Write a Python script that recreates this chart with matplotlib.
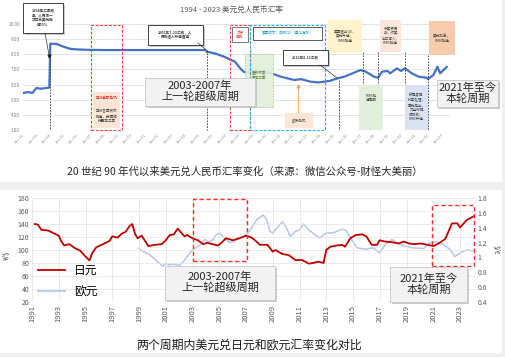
import matplotlib
matplotlib.use("Agg")
import matplotlib.pyplot as plt
from matplotlib.patches import Rectangle
from matplotlib.lines import Line2D

plt.rcParams['font.family'] = ['Noto Sans CJK SC', 'DejaVu Sans']

# ---------------- data ----------------
# Top chart: USD/CNY (decimal year, rate)
cny_year = [1992.0, 1992.4, 1992.7, 1993.0, 1993.3, 1993.95, 1994.02, 1994.5, 1995.0, 1995.5,
            1996.0, 1997.0, 1998.0, 2000.0, 2005.5, 2005.6, 2006.2, 2006.9, 2007.7, 2008.2,
            2008.4, 2009.9, 2010.4, 2011.1, 2012.1, 2012.6, 2013.3, 2013.9, 2014.7, 2015.3,
            2015.8, 2016.4, 2017.0, 2017.4, 2018.0, 2018.3, 2018.6, 2019.0, 2019.2, 2019.7,
            2020.0, 2020.3, 2020.8, 2021.3, 2021.9, 2022.0, 2022.4, 2022.7, 2022.9, 2023.4]
cny_rate = [5.45, 5.50, 5.45, 5.78, 5.72, 5.80, 8.70, 8.68, 8.50, 8.36,
            8.32, 8.29, 8.28, 8.28, 8.28, 8.17, 8.06, 7.84, 7.51, 6.96,
            6.82, 6.82, 6.74, 6.52, 6.30, 6.36, 6.19, 6.14, 6.24, 6.41,
            6.52, 6.74, 6.96, 6.85, 6.52, 6.45, 6.85, 6.90, 6.74, 7.07,
            6.90, 7.07, 6.74, 6.52, 6.45, 6.37, 6.63, 7.18, 6.74, 7.18]
top_yticks = [3, 4, 5, 6, 7, 8, 9, 10]
top_xlabels = ["Jan-%02d" % (y % 100) for y in range(1992, 2024)]

# Bottom chart: JPY per USD (left axis)
jpy_year = [1991.2, 1991.45, 1991.7, 1992.2, 1992.6, 1993.0, 1993.2, 1993.4, 1993.8, 1994.2,
            1994.6, 1994.9, 1995.3, 1995.5, 1995.8, 1996.3, 1996.8, 1997.0, 1997.4, 1997.7,
            1998.0, 1998.3, 1998.5, 1998.7, 1998.9, 1999.2, 1999.7, 2000.2, 2000.7, 2001.0,
            2001.3, 2001.6, 2001.9, 2002.1, 2002.4, 2002.6, 2003.0, 2003.4, 2003.8, 2004.1,
            2004.5, 2004.9, 2005.1, 2005.5, 2006.0, 2006.5, 2007.0, 2007.3, 2007.5, 2008.05,
            2008.6, 2009.0, 2009.2, 2009.7, 2010.2, 2010.7, 2011.2, 2011.7, 2012.0, 2012.4,
            2012.8, 2013.0, 2013.3, 2013.8, 2014.2, 2014.4, 2014.8, 2015.2, 2015.7, 2016.0,
            2016.4, 2016.8, 2017.0, 2017.4, 2017.9, 2018.4, 2018.8, 2019.2, 2019.6, 2020.1,
            2020.8, 2021.0, 2021.4, 2021.9, 2022.4, 2022.8, 2023.0, 2023.5, 2024.0]
jpy_rate = [140, 139, 131, 130, 126, 122, 113, 107, 109, 103,
            99, 92, 84, 95, 104, 109, 114, 121, 119, 125,
            128, 137, 140, 125, 118, 122, 106, 108, 109, 115,
            123, 124, 133, 128, 121, 123, 118, 115, 109, 111,
            109, 107, 110, 118, 115, 118, 122, 120, 118, 108,
            108, 97.5, 100, 94, 92, 84.5, 84.5, 79, 80, 82,
            80, 100, 105, 107, 108, 105, 118, 123, 124, 121,
            108, 108, 115, 113, 112, 110, 113, 110, 109, 110,
            107, 106, 110, 117, 141, 141, 134.6, 146, 151.6]

# Bottom chart: USD per EUR (right axis)
eur_year = [1999.0, 1999.3, 1999.7, 2000.1, 2000.4, 2000.8, 2001.0, 2001.25, 2001.6, 2002.0,
            2002.4, 2002.6, 2003.0, 2003.4, 2003.6, 2003.9, 2004.2, 2004.5, 2004.75, 2005.0,
            2005.4, 2005.75, 2006.1, 2006.5, 2007.0, 2007.4, 2007.8, 2008.3, 2008.55, 2008.8,
            2009.0, 2009.7, 2010.0, 2010.3, 2010.7, 2011.0, 2011.3, 2011.7, 2012.2, 2012.5,
            2013.0, 2013.5, 2014.2, 2014.5, 2014.9, 2015.3, 2015.9, 2016.5, 2017.0, 2017.4,
            2017.9, 2018.3, 2018.7, 2019.4, 2020.3, 2020.65, 2021.3, 2021.8, 2022.3, 2022.6,
            2023.0, 2023.5, 2024.0]
eur_rate = [1.12, 1.08, 1.05, 0.99, 0.94, 0.88, 0.92, 0.90, 0.91, 0.89,
            0.96, 1.01, 1.10, 1.15, 1.17, 1.24, 1.21, 1.23, 1.30, 1.33,
            1.26, 1.20, 1.21, 1.26, 1.30, 1.39, 1.51, 1.57, 1.51, 1.35,
            1.33, 1.48, 1.41, 1.28, 1.35, 1.37, 1.45, 1.37, 1.30, 1.26,
            1.33, 1.33, 1.38, 1.36, 1.24, 1.13, 1.11, 1.13, 1.06, 1.17,
            1.24, 1.20, 1.16, 1.13, 1.12, 1.19, 1.21, 1.17, 1.10, 1.01,
            1.06, 1.10, 1.09]
left_ticks = [20, 40, 60, 80, 100, 120, 140, 160, 180]
right_ticks = [0.4, 0.6, 0.8, 1.0, 1.2, 1.4, 1.6, 1.8]
right_labels = ["0.4", "0.6", "0.8", "1", "1.2", "1.4", "1.6", "1.8"]
year_ticks = list(range(1991, 2024, 2))
cycle_periods = [(2003.0, 2007.1, 83.5, 178.5), (2020.9, 2024.05, 75, 170)]

# ---------------- figure ----------------
W, H = 505, 357
fig = plt.figure(figsize=(W / 100, H / 100), dpi=100)
fig.patch.set_facecolor("white")


def fx(x):
    return x / W


def fy(y):
    return 1 - y / H


def rect(x0, y0, x1, y1, fc="none", ec="none", ls="-", lw=0.6, z=3, shadow=False, alpha=1.0):
    if shadow:
        fig.add_artist(Rectangle((fx(x0 + 2), fy(y1 + 2)), (x1 - x0) / W, (y1 - y0) / H,
                                 transform=fig.transFigure, facecolor="#BDBDBD", edgecolor="none",
                                 zorder=z - 0.1, alpha=0.8))
    fig.add_artist(Rectangle((fx(x0), fy(y1)), (x1 - x0) / W, (y1 - y0) / H,
                             transform=fig.transFigure, facecolor=fc, edgecolor=ec,
                             linestyle=ls, linewidth=lw, zorder=z, alpha=alpha))


def txt(x, y, s, size=2.8, color="#404040", weight="normal", z=5, ls=1.25):
    fig.text(fx(x), fy(y), s, ha="center", va="center", fontsize=size, color=color,
             fontweight=weight, zorder=z, linespacing=ls)


# gray separators
rect(0, 182, W, 190, fc="#EEF0EF", z=0.5)
rect(502, 0, W, H, fc="#EEF0EF", z=0.5)
rect(0, 353, W, H, fc="#EEF0EF", z=0.5)

# ---------------- top chart ----------------
ax1 = fig.add_axes([fx(23), fy(130), 427 / W, 106 / H])
ax1.plot(cny_year, cny_rate, color="#4472C4", lw=1.6, zorder=4, solid_capstyle="round")
ax1.set_ylim(3, 10)
ax1.set_xlim(1992, 1992 + 427 / 13.5)
ax1.set_yticks(top_yticks)
ax1.set_yticklabels(["%.2f" % v for v in top_yticks], fontsize=3.3, color="#7F7F7F")
ax1.set_xticks(list(range(1992, 2024)))
ax1.set_xticklabels(top_xlabels, fontsize=2.8, color="#8C8C8C", rotation=45, ha="right",
                    rotation_mode="anchor")
ax1.tick_params(length=0, pad=2)
ax1.grid(axis="y", color="#D9D9D9", lw=0.5)
for s in ax1.spines.values():
    s.set_visible(False)
ax1.patch.set_alpha(0)

txt(231, 10, "1994 - 2023 美元兑人民币汇率", size=5.5, color="#595959")

# vertical dashed event lines
for (xv, y0, y1) in [(50, 57, 130), (207, 50, 130), (339, 80, 130), (363, 52, 130),
                     (378, 52, 130), (405, 52, 130), (428, 55, 130)]:
    fig.add_artist(Line2D([fx(xv), fx(xv)], [fy(y0), fy(y1)], transform=fig.transFigure,
                          color="#333333", lw=0.6, ls=(0, (2, 1.5)), zorder=3))

# annotation boxes
rect(23, 3, 63, 33, fc="white", ec="#404040", lw=0.7, z=6, shadow=True)
txt(43, 18, "1994年汇率改\n革，人民币一\n次性兑美元贬\n值33%", size=2.6, weight="bold", z=7)
fig.add_artist(Line2D([fx(45), fx(49)], [fy(33), fy(55)], transform=fig.transFigure,
                      color="#333333", lw=0.5, zorder=6))
fig.add_artist(Line2D([fx(49)], [fy(56)], transform=fig.transFigure, marker="v",
                      color="#222222", ms=2, zorder=6))

rect(91, 25, 122, 130, ec="#FF3B3B", ls=(0, (2.5, 1.5)), lw=0.8, z=3)
rect(93, 92, 120, 128, fc="#FCE4D6", z=3.5)
txt(106.5, 98, "亚洲金融危机", size=2.6, color="#E02020", z=5)
txt(106.5, 116, "亚洲各国货币\n贬值，我国维\n持固定汇率", size=2.6, z=5)

rect(148, 25, 203, 45, fc="white", ec="#404040", lw=0.7, z=6, shadow=True)
txt(175.5, 35, "2005年7-21汇改，人\n民币进入升值通道", size=2.6, weight="bold", z=7)
fig.add_artist(Line2D([fx(198), fx(206)], [fy(43), fy(50)], transform=fig.transFigure,
                      color="#333333", lw=0.5, zorder=6))

rect(230, 25, 250, 130, ec="#FF3B3B", ls=(0, (2.5, 1.5)), lw=0.8, z=3)
rect(232, 27, 248, 42, fc="white", ec="#404040", lw=0.5, z=4)
txt(240, 34.5, "次贷\n危机", size=2.6, color="#E02020", z=5)

rect(250, 25, 325, 130, ec="#19B5F0", ls=(0, (2.5, 1.5)), lw=0.8, z=3)
rect(253, 27, 322, 40, fc="white", ec="#404040", lw=0.6, z=4)
txt(287.5, 33.5, "美国救市，四轮QE（量化宽松）", size=2.6, color="#19A0E0", z=5)

rect(245, 54, 273, 107, fc="#E2EFDA", ec="#9BC97F", ls=(0, (2, 1.5)), lw=0.6, z=2.5, alpha=0.9)
txt(259, 75, "重新恢复\n固定汇率", size=2.6, color="#548235", z=5)

rect(285, 113, 313, 128, fc="#FCE4D6", z=3.5)
txt(299, 120.5, "欧债危机", size=2.6, z=5)
fig.add_artist(Line2D([fx(298), fx(298)], [fy(112), fy(86)], transform=fig.transFigure,
                      color="#F4A460", lw=0.6, zorder=5))
fig.add_artist(Line2D([fx(298)], [fy(86)], transform=fig.transFigure, marker="^",
                      color="#F4A460", ms=2, zorder=5))

rect(283, 50, 328, 65, fc="white", ec="#404040", lw=0.7, z=6, shadow=True)
txt(305.5, 57.5, "2015年8-11汇改", size=2.6, weight="bold", z=7)
fig.add_artist(Line2D([fx(320), fx(337)], [fy(65), fy(78)], transform=fig.transFigure,
                      color="#333333", lw=0.5, zorder=6))

rect(328, 20, 362, 53, fc="#FFF2CC", z=3.5)
txt(345, 36.5, "美国退出QE，\n美元升值，\nRMB贬值", size=2.6, z=5)
rect(380, 20, 401, 52, fc="#FBE5D6", z=3.5)
txt(390.5, 36, "中美贸易\n战，对美\n出口减少，\nRMB贬值", size=2.6, z=5)
rect(429, 21, 455, 55, fc="#F8CBAD", z=3.5)
txt(442, 38, "美元加息，\nRMB贬值", size=2.6, z=5)
rect(359, 85, 383, 130, fc="#E2EFDA", z=3.5)
txt(371, 98, "RMB贬\n值周期", size=2.6, z=5)
rect(405, 85, 428, 130, fc="#DAE3F3", z=3.5)
txt(416.5, 107, "新冠疫情\n科学处理，\n率先走出，\n为全球提\n供物资，\nRMB升值", size=2.6, z=5)

rect(145, 78, 255, 106, fc="#F2F2F2", ec="#C8C8C8", lw=0.6, z=8, shadow=True)
txt(200, 92, "2003-2007年\n上一轮超级周期", size=8, color="#262626", z=9, ls=1.1)
rect(437, 80, 498, 107, fc="#F2F2F2", ec="#C8C8C8", lw=0.6, z=8, shadow=True)
txt(467.5, 93.5, "2021年至今\n本轮周期", size=8, color="#262626", z=9, ls=1.1)

txt(245, 172, "20 世纪 90 年代以来美元兑人民币汇率变化（来源：微信公众号-财怪大美丽）",
    size=7.5, color="#262626")

# ---------------- bottom chart ----------------
ax2 = fig.add_axes([fx(32), fy(302), 443 / W, 104 / H])
ax2.set_xlim(1991, 1991 + 443 / 13.375)
ax2.set_ylim(20, 180)
ax2.set_yticks(left_ticks)
ax2.set_yticklabels([str(v) for v in left_ticks], fontsize=5, color="#595959")
ax2.set_xticks(year_ticks)
ax2.set_xticklabels([str(y) for y in year_ticks], rotation=90, fontsize=5.5, color="#595959")
ax2.tick_params(length=0, pad=2)
ax2.grid(color="#E3E3E3", lw=0.5)
for s in ax2.spines.values():
    s.set_visible(False)
ax3 = ax2.twinx()
ax3.set_ylim(0.4, 1.8)
ax3.set_yticks(right_ticks)
ax3.set_yticklabels(right_labels, fontsize=5, color="#595959")
ax3.tick_params(length=0, pad=2)
for s in ax3.spines.values():
    s.set_visible(False)

l_eur, = ax3.plot(eur_year, eur_rate, color="#B4C7E7", lw=1.1, zorder=3)
l_jpy, = ax2.plot(jpy_year, jpy_rate, color="#C00000", lw=1.3, zorder=4)
ax2.set_zorder(ax3.get_zorder() + 1)
ax2.patch.set_visible(False)

for (x0, x1, y0, y1) in cycle_periods:
    ax2.add_patch(Rectangle((x0, y0), x1 - x0, y1 - y0, facecolor="none", edgecolor="#FF2A2A",
                            ls=(0, (3, 2)), lw=1.0, zorder=5, clip_on=False))

leg = ax2.legend([l_jpy, l_eur], ["日元", "欧元"], loc="upper left",
                 bbox_to_anchor=(fx(33), fy(259)), bbox_transform=fig.transFigure,
                 frameon=False, fontsize=8.5, handlelength=2.3, labelspacing=0.75,
                 borderaxespad=0, handletextpad=0.8)
for h in leg.get_lines():
    h.set_linewidth(1.3)

fig.text(fx(7), fy(255), "¥/$", rotation=90, fontsize=4.5, color="#404040", ha="center", va="center")
fig.text(fx(496), fy(250), "$/€", rotation=270, fontsize=4.5, color="#404040", ha="center", va="center")

rect(165, 266, 275, 300, fc="#F2F2F2", ec="#C8C8C8", lw=0.6, z=8, shadow=True)
txt(220, 283, "2003-2007年\n上一轮超级周期", size=8, color="#262626", z=9, ls=1.1)
rect(390, 267, 467, 302, fc="#F2F2F2", ec="#C8C8C8", lw=0.6, z=8, shadow=True)
txt(428.5, 284.5, "2021年至今\n本轮周期", size=8, color="#262626", z=9, ls=1.1)

txt(249, 345, "两个周期内美元兑日元和欧元汇率变化对比", size=8.6, color="#1A1A1A")

fig.savefig("out.png", dpi=100)
